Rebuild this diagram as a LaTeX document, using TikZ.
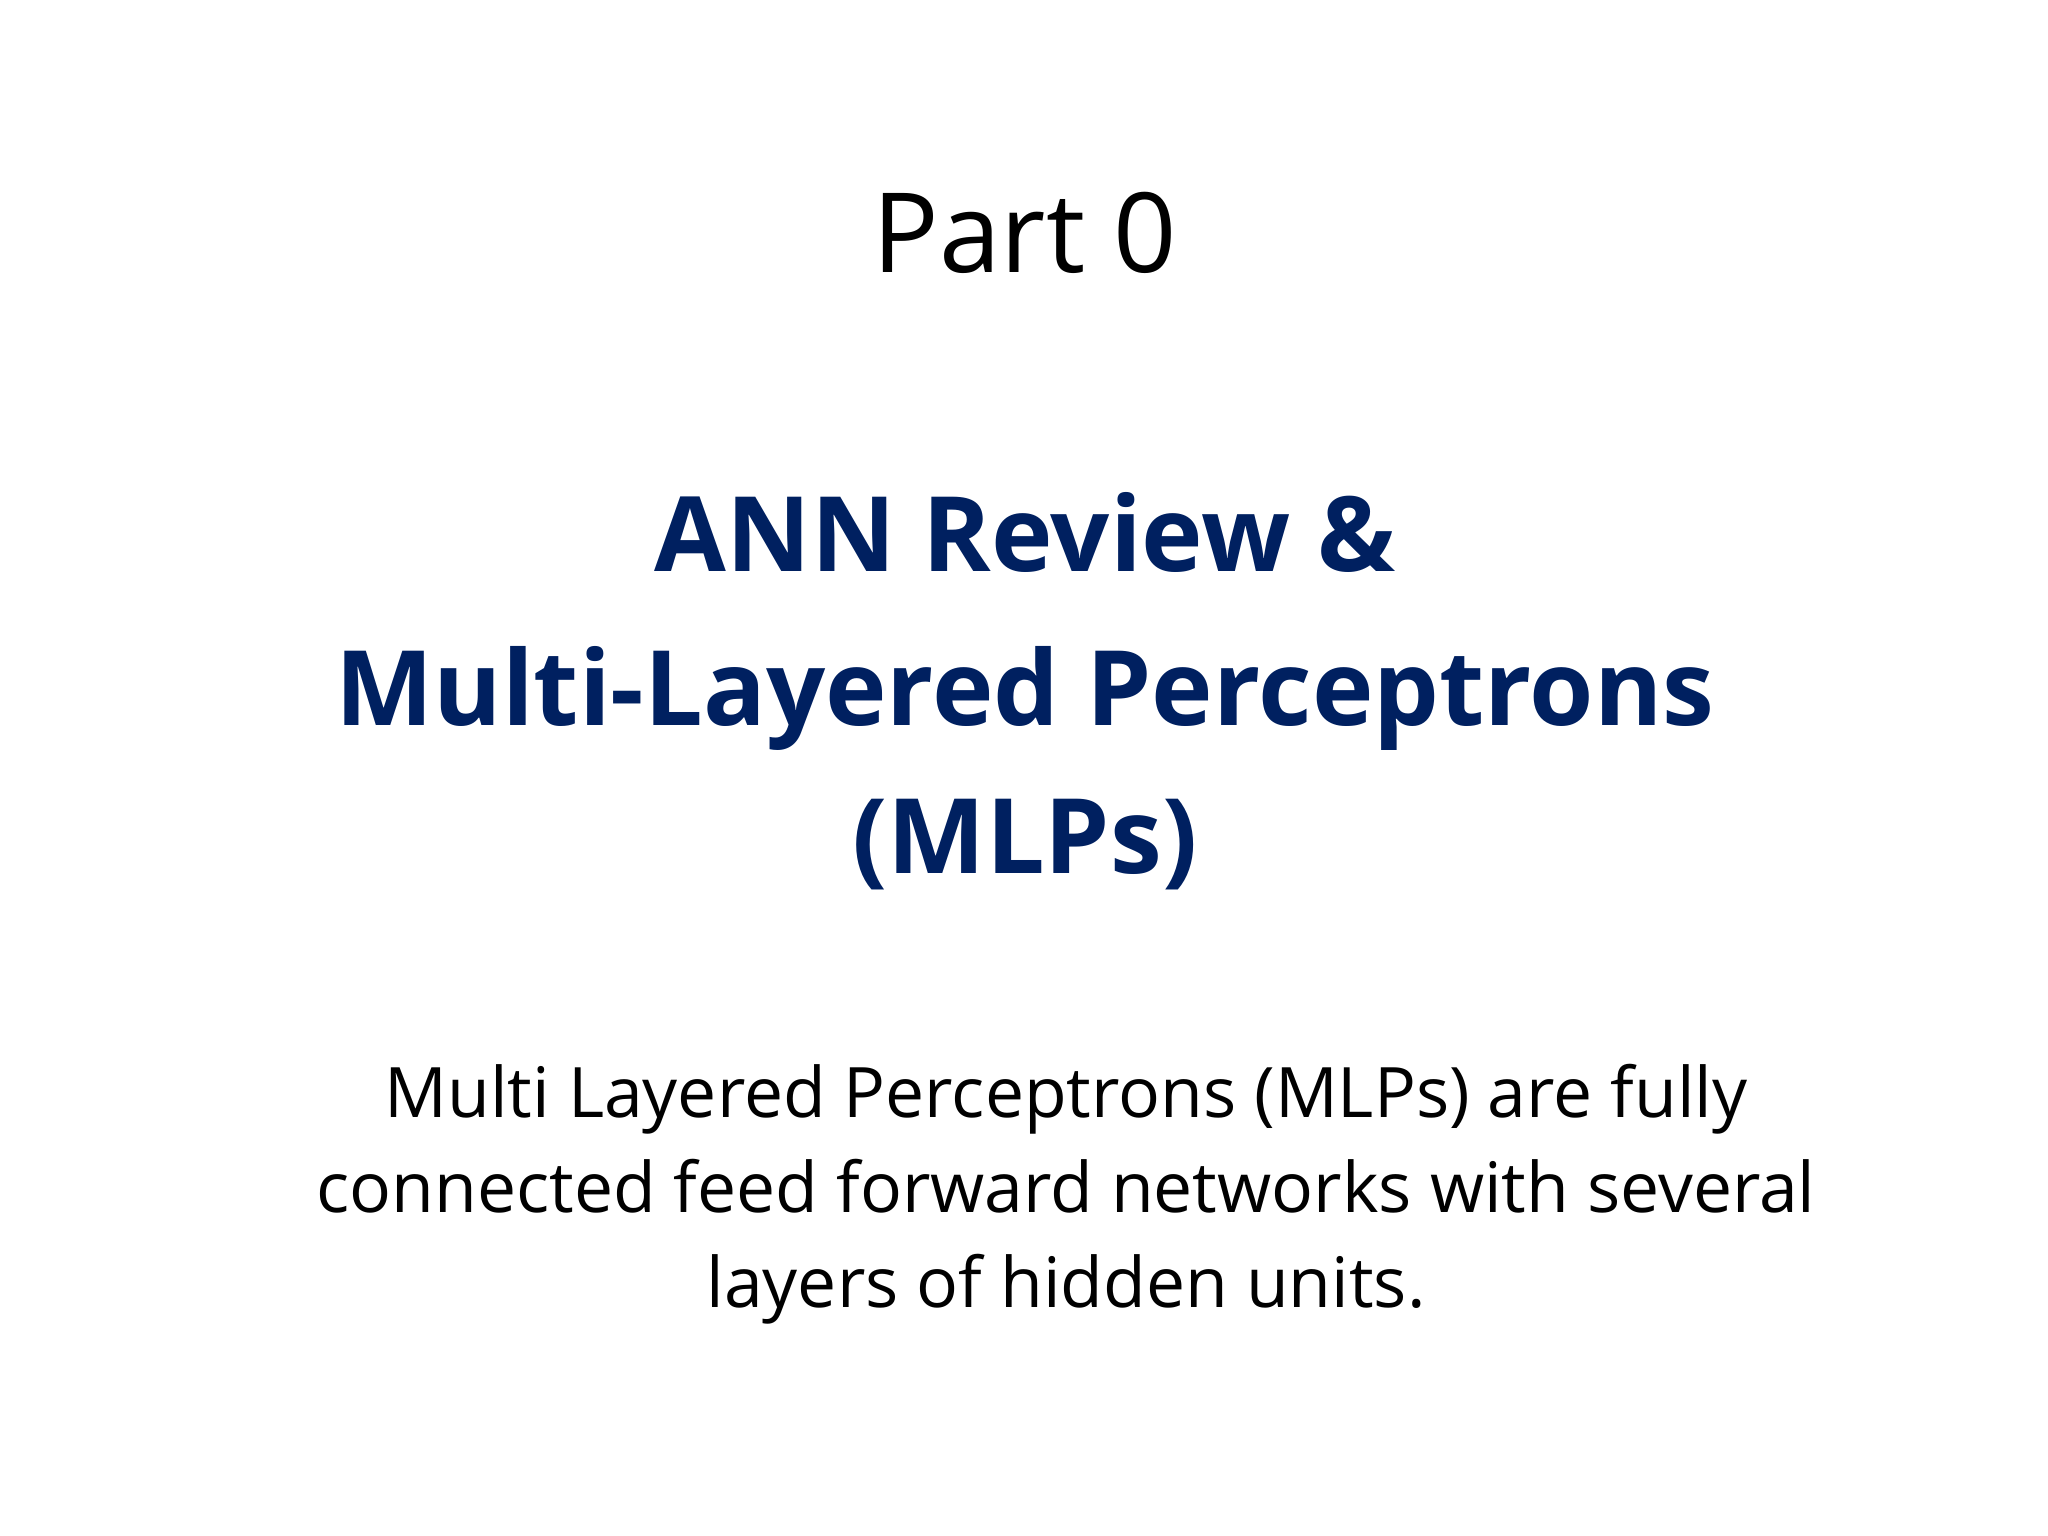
\documentclass[tikz,border=0pt]{standalone}
\usepackage{fontspec}
\setmainfont{Open Sans}
\definecolor{navy}{RGB}{0,32,96}
\begin{document}
\begin{tikzpicture}[x=0.01cm,y=-0.01cm,
  plain/.style={anchor=base,inner sep=0pt,font=\fontsize{31.5}{38}\selectfont},
  ttl/.style={anchor=base,inner sep=0pt,text=navy,font=\fontsize{29.6}{36}\selectfont\bfseries},
  body/.style={anchor=base,inner sep=0pt,font=\fontsize{19.8}{24}\selectfont}]
\useasboundingbox (0,0) rectangle (2048,1536);
\node[plain] (p) at (1025,272) {Part 0};
\node[ttl] (t1) at (1025,571) {ANN Review \&};
\node[ttl] (t2) at (1025,725) {Multi-Layered Perceptrons};
\node[ttl] (t3) at (1025,873) {(MLPs)};
\node[body] (b1) at (1066,1117) {Multi Layered Perceptrons (MLPs) are fully};
\node[body] (b2) at (1066,1212) {connected feed forward networks with several};
\node[body] (b3) at (1066,1307) {layers of hidden units.};
\end{tikzpicture}
\end{document}
